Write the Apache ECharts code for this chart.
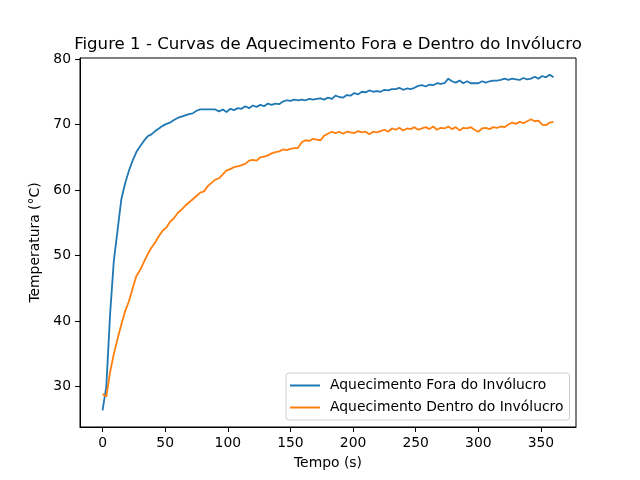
<!DOCTYPE html>
<html>
<head>
<meta charset="utf-8">
<script src="https://cdn.jsdelivr.net/npm/echarts@6/dist/echarts.min.js"></script>
<style>html,body{margin:0;padding:0;background:#fff}#c{width:640px;height:480px}</style>
</head>
<body>
<div id="c"></div>
<script>
const tempo = [0,3,6,9,12,15,18,21,24,27,30,33,36,39,42,45,48,51,54,57,60,63,66,69,72,75,78,81,84,87,90,93,96,99,102,105,108,111,114,117,120,123,126,129,132,135,138,141,144,147,150,153,156,159,162,165,168,171,174,177,180,183,186,189,192,195,198,201,204,207,210,213,216,219,222,225,228,231,234,237,240,243,246,249,252,255,258,261,264,267,270,273,276,279,282,285,288,291,294,297,300,303,306,309,312,315,318,321,324,327,330,333,336,339,342,345,348,351,354,357,360];
const fora = [26.4,30.0,41.0,49.2,53.9,58.6,61.0,62.9,64.5,65.8,66.7,67.5,68.2,68.5,69.0,69.4,69.8,70.1,70.3,70.7,71.0,71.2,71.4,71.6,71.7,72.1,72.3,72.3,72.3,72.3,72.3,72.0,72.3,71.9,72.4,72.2,72.5,72.4,72.8,72.5,72.9,72.7,73.0,72.8,73.2,73.0,73.2,73.1,73.5,73.7,73.6,73.8,73.7,73.8,73.7,73.9,73.8,73.9,74.0,73.8,74.1,73.9,74.4,74.2,74.1,74.5,74.4,74.8,74.6,75.0,74.9,75.2,75.0,75.1,75.0,75.3,75.2,75.4,75.4,75.6,75.3,75.5,75.4,75.6,75.9,76.0,75.8,76.1,76.0,76.3,76.2,76.3,77.0,76.6,76.4,76.7,76.3,76.6,76.3,76.3,76.3,76.6,76.4,76.6,76.7,76.7,76.8,77.0,76.8,77.0,76.9,76.8,77.1,76.9,77.0,77.3,77.0,77.4,77.2,77.6,77.2];
const dentro = [28.9,28.5,32.2,35.0,37.3,39.5,41.5,43.0,45.0,46.9,47.8,49.0,50.2,51.2,52.0,53.0,53.8,54.3,55.2,55.7,56.5,57.0,57.6,58.1,58.6,59.1,59.6,59.8,60.6,61.1,61.6,61.8,62.4,63.0,63.2,63.5,63.6,63.8,64.0,64.5,64.6,64.5,65.0,65.1,65.3,65.6,65.8,65.9,66.2,66.1,66.3,66.4,66.4,67.3,67.6,67.5,67.8,67.7,67.6,68.3,68.6,68.9,68.7,68.9,68.6,68.9,68.8,68.7,69.0,68.8,68.9,68.5,68.9,68.8,69.0,69.2,68.9,69.4,69.2,69.5,69.1,69.4,69.3,69.6,69.2,69.4,69.6,69.3,69.7,69.2,69.5,69.4,69.7,69.3,69.6,69.1,69.5,69.4,69.6,69.2,68.9,69.4,69.5,69.3,69.6,69.5,69.7,69.6,70.0,70.3,70.1,70.4,70.2,70.5,70.8,70.5,70.6,70.0,69.9,70.3,70.4];
const xTicks = [0,50,100,150,200,250,300,350];
const yTicks = [30,40,50,60,70,80];
const serieNames = ['Aquecimento Fora do Invólucro','Aquecimento Dentro do Invólucro'];

const font = 'DejaVu Sans';
const chart = echarts.init(document.getElementById('c'), null, {renderer:'canvas'});
function pairs(xs, ys){ return xs.map((x,i)=>[x, ys[i]]); }
chart.setOption({
  animation:false,
  backgroundColor:'#fff',
  title:{text:'Figure 1 - Curvas de Aquecimento Fora e Dentro do Invólucro', left:323, top:31, textAlign:'center',
    textStyle:{fontFamily:font, fontSize:16.6, fontWeight:'normal', color:'#000'}},
  grid:{left:80, right:64, top:58, bottom:53, show:true, borderColor:'#000', borderWidth:1},
  legend:{orient:'vertical', left:286, top:373, padding:[4,6,4,4], itemGap:5,
    backgroundColor:'rgba(255,255,255,0.8)', borderColor:'#d0d0d0', borderWidth:1, borderRadius:3,
    icon:'rect', itemWidth:30, itemHeight:2,
    textStyle:{fontFamily:font, fontSize:13.9, color:'#000', lineHeight:17, padding:[0,0,0,5]},
    data:serieNames},
  xAxis:{type:'value', min:-18, max:378, name:'Tempo (s)', nameLocation:'middle', nameGap:29,
    nameTextStyle:{fontFamily:font, fontSize:13.9, color:'#000'},
    axisLine:{show:true, onZero:false, lineStyle:{color:'#000'}},
    axisTick:{show:true, length:5, inside:false, customValues:xTicks, lineStyle:{color:'#000'}},
    axisLabel:{customValues:xTicks, fontFamily:font, fontSize:13.9, color:'#000', margin:9},
    splitLine:{show:false}},
  yAxis:{type:'value', min:23.85, max:80.15, name:'Temperatura (°C)', nameLocation:'middle', nameGap:32,
    nameTextStyle:{fontFamily:font, fontSize:13.9, color:'#000'},
    axisLine:{show:true, onZero:false, lineStyle:{color:'#000'}},
    axisTick:{show:true, length:5, customValues:yTicks, lineStyle:{color:'#000'}},
    axisLabel:{customValues:yTicks, fontFamily:font, fontSize:13.9, color:'#000', margin:9},
    splitLine:{show:false}},
  series:[
    {name:serieNames[0], type:'line', data:pairs(tempo, fora), showSymbol:false, symbol:'none',
      lineStyle:{color:'#1f77b4', width:1.8}, itemStyle:{color:'#1f77b4'}},
    {name:serieNames[1], type:'line', data:pairs(tempo, dentro), showSymbol:false, symbol:'none',
      lineStyle:{color:'#ff7f0e', width:1.8}, itemStyle:{color:'#ff7f0e'}}
  ]
});
</script>
</body>
</html>
